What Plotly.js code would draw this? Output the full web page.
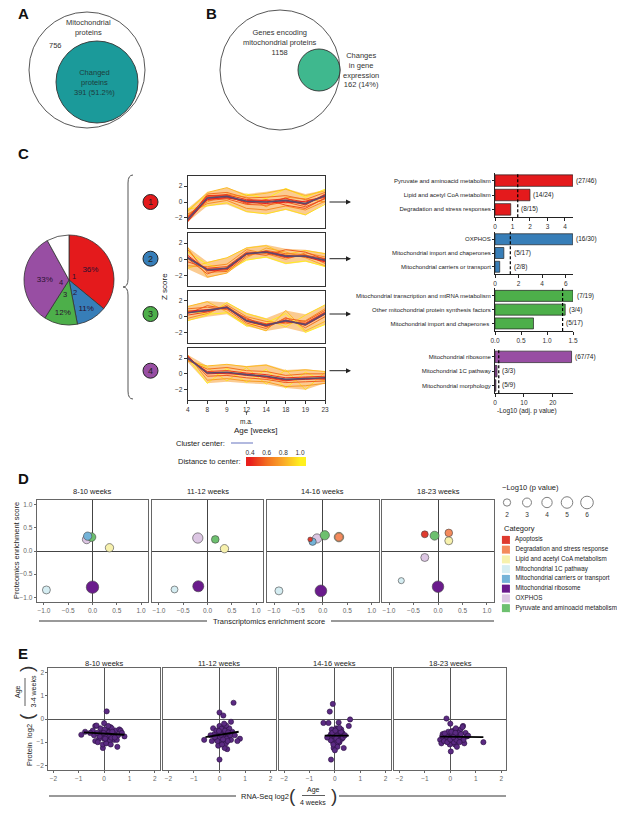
<!DOCTYPE html>
<html><head><meta charset="utf-8">
<script src="https://cdn.plot.ly/plotly-3.0.1.min.js"></script>
<style>html,body{margin:0;padding:0;background:#fff}#chart{width:617px;height:814px}</style>
</head><body><div id="chart"></div>
<script>
// ---------------- DATA ----------------
// Panel A
const mitoProteins = 756;
const changedProteins = 391;
const changedPct = '51.2%';
// Panel B
const mitoGenes = 1158;
const changedGenes = 162;
const changedGenesPct = '14%';
// Panel C pie
const clusterIds = ['1','2','3','4',''];
const clusterShares = [36, 11, 12, 33, 8];
const clusterColors = ['#e41a1c','#377eb8','#4daf4a','#984ea3','#ffffff'];
// Panel C profiles
const ageWeeks = ['4','8','9','12','14','18','19','23'];
const center1 = [-2.2,0.5,0.7,0.1,0.0,0.2,-0.2,0.8];
const center2 = [0.2,-1.3,-1.1,0.7,0.9,0.4,0.4,-0.1];
const center3 = [0.5,0.8,1.2,-0.5,-1.1,-0.5,-1.0,0.4];
const center4 = [2.0,0.1,0.2,-0.1,-0.3,-0.7,-0.6,-0.5];
const upper1 = [-0.8,1.2,1.8,1.0,1.3,1.7,1.0,1.5];
const lower1 = [-2.5,-0.5,-0.3,-1.3,-1.5,-1.0,-1.7,-0.2];
const upper2 = [1.5,-0.3,0.2,1.5,1.8,1.3,1.2,0.8];
const lower2 = [-1.2,-2.3,-1.7,-0.1,0.2,-0.6,-0.3,-0.9];
const upper3 = [1.3,2.0,1.8,0.5,-0.2,0.8,0.3,1.5];
const lower3 = [-0.5,0.0,0.3,-1.2,-1.8,-1.4,-2.0,-1.0];
const upper4 = [2.4,1.0,1.2,1.0,1.2,0.5,0.6,0.3];
const lower4 = [1.5,-1.2,-1.0,-1.2,-1.3,-1.8,-2.0,-1.2];
const lines1 = [[-2.4,0.3,0.6,0.0,-0.2,0.1,-0.3,0.9],[-2.0,0.8,0.9,0.3,0.2,0.4,0.0,0.6],[-1.8,0.2,0.4,-0.3,-0.4,0.0,-0.6,0.4],[-2.3,1.0,1.2,0.5,0.6,0.8,0.3,1.2],[-1.5,-0.2,0.2,-0.8,-1.0,-0.5,-1.0,0.1],[-1.2,1.2,1.8,0.8,1.1,1.6,0.8,1.4],[-0.9,-0.5,-0.1,-1.2,-1.5,-0.9,-1.6,-0.3],[-1.0,0.9,0.5,1.0,0.4,1.7,0.6,1.6],[-2.5,0.6,0.8,-0.2,0.3,-0.4,-0.8,0.5],[-1.6,0.0,1.0,0.6,-0.6,0.6,0.4,0.0],[-2.1,0.4,0.5,0.2,0.1,-0.1,0.1,0.7],[-1.9,0.7,0.9,-0.1,-0.1,0.5,-0.4,1.0]];
const dist1 = [0.4,0.45,0.55,0.6,0.7,0.85,0.95,1.0,0.5,0.75,0.42,0.5];
const lines2 = [[0.5,-1.4,-1.3,0.6,1.0,0.5,0.3,-0.3],[-0.3,-1.1,-0.9,0.9,0.8,0.2,0.5,0.1],[1.2,-1.6,-1.5,0.4,1.1,0.7,0.6,-0.5],[-0.8,-0.9,-0.6,1.2,0.7,0.0,0.8,0.3],[1.5,-2.2,-1.7,0.2,1.4,0.9,0.2,-0.8],[-1.1,-0.4,0.2,1.4,1.7,0.6,1.1,0.7],[0.9,-0.6,-1.4,-0.1,0.3,-0.5,-0.2,-0.9],[0.1,-1.8,-1.0,0.8,0.5,1.2,0.9,0.0],[0.3,-1.2,-1.2,0.7,0.9,0.3,0.4,-0.2]];
const dist2 = [0.4,0.5,0.6,0.7,0.8,0.9,1.0,0.55,0.42];
const lines3 = [[0.7,0.9,1.1,-0.6,-1.2,-0.4,-1.1,0.3],[0.2,0.6,1.3,-0.3,-0.9,-0.7,-0.8,0.6],[1.0,1.2,0.9,-0.8,-1.5,-0.1,-1.4,0.0],[-0.2,0.4,1.5,0.0,-0.6,-0.9,-0.5,1.0],[1.3,1.9,0.6,-1.0,-1.8,0.8,-1.8,-0.6],[-0.5,0.2,1.8,0.4,-0.3,-1.3,0.2,1.5],[0.8,0.3,0.5,-1.2,-0.8,0.4,-2.0,-1.0],[0.4,1.4,1.0,-0.2,-1.3,-0.2,-0.6,0.8],[0.6,0.7,1.2,-0.5,-1.0,-0.6,-0.9,0.5]];
const dist3 = [0.4,0.5,0.6,0.7,0.85,0.95,1.0,0.55,0.42];
const lines4 = [[2.2,0.0,0.1,-0.2,-0.4,-0.8,-0.7,-0.6],[1.9,0.3,0.4,0.1,-0.1,-0.5,-0.4,-0.3],[2.3,-0.3,-0.2,-0.5,-0.7,-1.1,-1.0,-0.9],[1.7,0.6,0.8,0.4,0.3,-0.2,0.0,0.0],[2.4,-0.8,-0.6,-0.9,-1.0,-1.6,-1.5,-1.2],[1.6,1.0,1.2,0.9,1.1,0.3,0.5,0.3],[2.0,-1.2,0.7,-1.1,0.6,-1.8,0.2,-1.0],[1.8,0.8,-0.9,0.8,-1.3,0.5,-2.0,0.2],[2.1,0.2,0.0,0.0,-0.5,-0.9,-0.5,-0.7]];
const dist4 = [0.4,0.45,0.55,0.6,0.75,0.85,1.0,0.95,0.5];
const distTicks = [0.4, 0.6, 0.8, 1.0];
// Panel C enrichment bars
const sigThreshold = 1.3;
const bar1Terms = ['Pyruvate and aminoacid metabolism','Lipid and acetyl CoA metabolism','Degradation and stress responses'];
const bar1Vals = [4.45, 2.0, 0.9];
const bar1Counts = ['(27/46)','(14/24)','(8/15)'];
const bar2Terms = ['OXPHOS','Mitochondrial import and chaperones','Mitochondrial carriers or transport'];
const bar2Vals = [6.6, 0.75, 0.4];
const bar2Counts = ['(16/30)','(5/17)','(2/8)'];
const bar3Terms = ['Mitochondrial transcription and mtRNA metabolism','Other mitochondrial protein synthesis factors','Mitochondrial import and chaperones '];
const bar3Vals = [1.5, 1.35, 0.74];
const bar3Counts = ['(7/19)','(3/4)','(5/17)'];
const bar4Terms = ['Mitochondrial ribosome','Mitochondrial 1C pathway','Mitochondrial morphology'];
const bar4Vals = [26.5, 0.7, 0.3];
const bar4Counts = ['(67/74)','(3/3)','(5/9)'];
// Panel D
const dPeriods = ['8-10 weeks','11-12 weeks','14-16 weeks','18-23 weeks'];
const dCategories = ['Apoptosis','Degradation and stress response','Lipid and acetyl CoA metabolism','Mitochondrial 1C pathway','Mitochondrial carriers or transport','Mitochondrial ribosome','OXPHOS','Pyruvate and aminoacid metabolism'];
const dColors = ['#df3a2e','#f48a5c','#f7f1ad','#d5edf2','#74b3d8','#6a1b8c','#dcc6e3','#6dc06f'];
const dSizeKey = [2,3,4,5,6];
const dCat1 = ['Mitochondrial ribosome','OXPHOS','Pyruvate and aminoacid metabolism','Mitochondrial carriers or transport','Lipid and acetyl CoA metabolism','Mitochondrial 1C pathway'];
const dX1 = [0.00,-0.12,-0.02,-0.10,0.35,-0.95];
const dY1 = [-0.78,0.25,0.30,0.32,0.07,-0.84];
const dP1 = [5.8,2.8,2.8,2.6,2.6,2.4];
const dCat2 = ['Mitochondrial ribosome','OXPHOS','Pyruvate and aminoacid metabolism','Lipid and acetyl CoA metabolism','Mitochondrial 1C pathway'];
const dX2 = [-0.19,-0.20,0.16,0.35,-0.68];
const dY2 = [-0.76,0.28,0.25,0.05,-0.83];
const dP2 = [4.6,4.0,2.2,2.6,1.8];
const dCat3 = ['Mitochondrial ribosome','OXPHOS','Pyruvate and aminoacid metabolism','Lipid and acetyl CoA metabolism','Degradation and stress response','Mitochondrial carriers or transport','Mitochondrial 1C pathway','Apoptosis'];
const dX3 = [-0.04,-0.12,0.04,0.33,0.33,-0.21,-0.90,-0.26];
const dY3 = [-0.86,0.27,0.34,0.30,0.30,0.20,-0.86,0.25];
const dP3 = [5.2,3.2,3.2,3.4,2.6,2.0,2.4,0.8];
const dCat4 = ['Mitochondrial ribosome','Pyruvate and aminoacid metabolism','OXPHOS','Lipid and acetyl CoA metabolism','Degradation and stress response','Apoptosis','Mitochondrial 1C pathway'];
const dX4 = [0.00,-0.07,-0.27,0.22,0.22,-0.27,-0.75];
const dY4 = [-0.77,0.33,-0.14,0.22,0.39,0.36,-0.64];
const dP4 = [5.0,3.0,2.4,2.4,2.2,1.8,1.4];
// Panel E (RNA log2 ratio, protein log2 ratio)
const ePeriods = ['8-10 weeks','11-12 weeks','14-16 weeks','18-23 weeks'];
const ePts1 = [[0.10,0.33],[-0.90,-0.68],[-0.75,-0.55],[0.80,-0.75],[-0.05,-1.25],[0.52,-1.20],[0.00,-0.60],[0.05,-0.70],[0.10,-0.50],[0.15,-0.80],[0.20,-0.65],[-0.10,-0.55],[-0.20,-0.85],[0.25,-0.45],[0.30,-0.75],[-0.35,-0.30],[0.35,-0.60],[0.40,-0.90],[-0.35,-0.95],[0.45,-0.50],[0.55,-0.70],[0.60,-0.45],[0.00,-0.18],[-0.05,-1.10],[0.15,-1.00],[0.25,-0.35],[-0.15,-0.40],[0.10,-0.90],[0.00,-0.85],[0.20,-0.55],[-0.25,-1.00],[0.30,-0.40],[0.12,-0.62],[-0.08,-0.72],[0.18,-0.58],[0.22,-0.95],[-0.12,-0.65],[0.08,-1.05],[0.28,-0.80],[0.38,-0.65],[-0.40,-0.70],[0.50,-0.90],[0.02,-0.45],[0.14,-0.70],[0.06,-0.78],[-0.02,-0.60],[0.32,-0.55],[-0.18,-0.75],[0.42,-0.80],[0.26,-1.10],[0.65,-0.50],[-0.30,-0.28],[-0.45,-0.50],[0.16,-0.30],[0.04,-0.85],[-0.28,-0.60],[0.70,-0.60],[-0.55,-0.60]];
const ePts2 = [[0.55,0.70],[0.00,0.28],[0.15,0.15],[0.00,-1.75],[-0.60,-0.90],[0.80,-0.85],[0.70,-0.95],[0.45,-0.12],[0.30,-1.30],[0.20,-1.25],[-0.05,-1.15],[0.05,-0.60],[0.10,-0.70],[0.15,-0.50],[0.20,-0.80],[0.25,-0.65],[-0.10,-0.55],[-0.15,-0.85],[0.30,-0.45],[0.35,-0.75],[-0.25,-0.40],[0.40,-0.60],[0.45,-0.90],[-0.30,-0.95],[0.50,-0.55],[0.00,-0.30],[0.10,-1.00],[0.20,-0.35],[-0.20,-0.65],[0.05,-0.90],[0.15,-0.78],[0.25,-1.05],[-0.05,-0.75],[0.12,-0.58],[0.08,-0.42],[0.18,-0.62],[0.28,-0.85],[-0.12,-0.50],[0.02,-0.80],[0.22,-0.50],[0.32,-0.95],[-0.08,-0.95],[0.38,-0.40],[0.14,-0.88],[0.06,-0.68],[-0.18,-0.78],[0.42,-0.70],[0.26,-0.28],[-0.35,-0.70],[0.60,-0.70],[0.10,-1.10],[-0.02,-0.52],[0.34,-0.58],[0.18,-0.20]];
const ePts3 = [[-0.08,0.65],[-0.20,0.32],[-0.45,-0.17],[-0.25,-0.17],[0.15,-0.15],[0.60,-0.02],[0.55,-0.30],[-0.15,-1.75],[0.35,-1.25],[0.00,-0.60],[0.05,-0.70],[0.10,-0.50],[0.15,-0.80],[0.20,-0.65],[-0.05,-0.55],[-0.10,-0.85],[0.25,-0.45],[0.08,-0.95],[-0.15,-0.65],[0.12,-1.05],[0.02,-1.15],[-0.05,-1.25],[0.18,-1.00],[0.22,-0.75],[0.30,-0.60],[-0.12,-0.45],[0.05,-0.40],[0.10,-0.88],[-0.02,-0.78],[0.14,-0.68],[0.06,-0.58],[-0.08,-0.98],[0.16,-0.52],[0.00,-0.92],[0.28,-0.85],[-0.20,-0.75],[0.04,-1.05],[0.12,-0.42],[-0.04,-0.66],[0.20,-0.90],[0.08,-0.72],[0.10,-1.20],[-0.10,-0.60],[0.24,-0.55],[0.02,-0.50],[0.32,-0.80],[-0.16,-0.92],[0.06,-0.84],[0.14,-0.95],[0.00,-1.35],[-0.06,-1.10],[0.18,-0.38],[0.40,-0.70],[-0.30,-0.80]];
const ePts4 = [[1.30,-1.00],[-0.15,0.02],[0.00,-0.20],[0.02,-1.40],[0.50,-0.30],[-0.40,-0.90],[-0.35,-1.05],[-0.30,-0.65],[0.00,-0.70],[0.05,-0.80],[0.10,-0.60],[0.15,-0.90],[0.20,-0.75],[-0.05,-0.85],[-0.10,-0.65],[0.25,-0.55],[0.30,-0.95],[-0.20,-0.80],[0.35,-0.70],[0.40,-0.45],[0.45,-0.85],[0.55,-1.05],[0.60,-0.60],[-0.25,-0.95],[0.08,-1.00],[0.12,-0.50],[0.18,-1.10],[0.22,-0.40],[-0.08,-0.55],[0.02,-0.95],[0.28,-0.80],[0.16,-0.70],[-0.15,-0.75],[0.06,-0.62],[0.10,-0.85],[0.32,-0.60],[-0.02,-1.10],[0.14,-1.00],[0.24,-0.90],[0.38,-0.78],[-0.12,-1.00],[0.04,-0.55],[0.20,-0.60],[0.42,-0.65],[0.48,-0.35],[0.65,-0.75],[0.52,-0.90],[-0.32,-0.75],[0.26,-1.20],[0.00,-0.88],[-0.22,-0.62],[0.36,-1.00],[0.12,-0.78],[0.70,-0.72]];
const eFitX1 = [-0.80,0.80], eFitY1 = [-0.58,-0.68];
const eFitX2 = [-0.55,0.75], eFitY2 = [-0.78,-0.55];
const eFitX3 = [-0.40,0.55], eFitY3 = [-0.72,-0.72];
const eFitX4 = [-0.40,1.30], eFitY4 = [-0.76,-0.78];

// ---------------- HELPERS ----------------
const W = 617, H = 814;
const px = x => x / W, py = y => 1 - y / H;
const hd = (a, b) => [a / W, b / W];
const vd = (top, bot) => [1 - bot / H, 1 - top / H];
const FONT = 'Liberation Sans, Arial, sans-serif';
const tickF = {family: FONT, size: 6.5, color: '#333'};
const grayTickF = {family: FONT, size: 6.5, color: '#666'};

const stops = [[0.4,[232,32,28]],[0.6,[243,112,32]],[0.8,[250,170,40]],[1.0,[255,240,30]]];
function distColor(d) {
  for (let i = 0; i < stops.length - 1; i++) {
    const [a, ca] = stops[i], [b, cb] = stops[i + 1];
    if (d <= b || i === stops.length - 2) {
      const t = Math.max(0, Math.min(1, (d - a) / (b - a)));
      const c = ca.map((v, j) => Math.round(v + (cb[j] - v) * t));
      return `rgb(${c[0]},${c[1]},${c[2]})`;
    }
  }
}
const distScale = stops.map(([v, c]) => [(v - 0.4) / 0.6, `rgb(${c[0]},${c[1]},${c[2]})`]);

const layout = {
  width: W, height: H, margin: {l: 0, r: 0, t: 0, b: 0},
  paper_bgcolor: '#fff', plot_bgcolor: 'rgba(0,0,0,0)', showlegend: false,
  font: {family: FONT, size: 7, color: '#222'},
  shapes: [], annotations: []
};
const traces = [];
function ann(x, y, text, o = {}) {
  layout.annotations.push(Object.assign({xref: 'paper', yref: 'paper', x: px(x), y: py(y), text, showarrow: false,
    font: {family: FONT, size: o.size || 7, color: o.color || '#222'}, xanchor: o.xa || 'center', yanchor: o.ya || 'middle'}, o.extra || {}));
}
function circle(cx, cy, r, fill, lc, lw) {
  layout.shapes.push({type: 'circle', xref: 'paper', yref: 'paper', x0: px(cx - r), x1: px(cx + r), y0: py(cy + r), y1: py(cy - r),
    fillcolor: fill, line: {color: lc || '#333', width: lw || 1}});
}
function pline(x0, y0, x1, y1, color, width, dash) {
  layout.shapes.push({type: 'line', xref: 'paper', yref: 'paper', x0: px(x0), x1: px(x1), y0: py(y0), y1: py(y1),
    line: {color: color || '#333', width: width || 1, dash: dash || 'solid'}});
}

// ---------------- PANEL LETTERS ----------------
[['A',23,13],['B',211,13],['C',23,153],['D',23,478],['E',23,653]].forEach(([t,x,y]) =>
  ann(x, y, '<b>' + t + '</b>', {size: 15, color: '#111'}));

// ---------------- PANEL A / B (Venn) ----------------
circle(87, 70, 58, 'rgba(0,0,0,0)', '#444', 0.9);
circle(97, 82, 41, '#1b9a9a', '#333', 0.9);
ann(88, 28, 'Mitochondrial<br>proteins', {size: 7.5, color: '#333'});
ann(55, 45, String(mitoProteins), {size: 7.5, color: '#333'});
ann(94, 82, 'Changed<br>proteins<br>' + changedProteins + ' (' + changedPct + ')', {size: 7.5, color: '#1d3d3d'});
circle(280, 70, 60, 'rgba(0,0,0,0)', '#444', 0.9);
circle(319, 70, 21, '#3fb88e', '#333', 0.9);
ann(280, 43, 'Genes encoding<br>mitochondrial proteins<br>' + mitoGenes, {size: 7.5, color: '#333'});
ann(361, 70, 'Changes<br>in gene<br>expression<br>' + changedGenes + ' (' + changedGenesPct + ')', {size: 7.5, color: '#333'});

// ---------------- PANEL C: pie ----------------
traces.push({type: 'pie', values: clusterShares, labels: clusterIds.map((c, i) => 'c' + i),
  marker: {colors: clusterColors, line: {color: '#333', width: 0.8}},
  text: clusterShares.map((v, i) => clusterIds[i] ? v + '%' : ''), textinfo: 'text', textposition: 'inside',
  insidetextorientation: 'horizontal', textfont: {family: FONT, size: 8, color: '#2a1030'},
  sort: false, direction: 'clockwise', rotation: 0, hoverinfo: 'none',
  domain: {x: hd(24, 114), y: vd(235, 325)}});
[['1',74,276],['2',75,292],['3',65,294],['4',61,283]].forEach(([t,x,y]) => ann(x, y, t, {size: 7.5, color: '#2a1030'}));

// brace
const P = (x, y) => `${px(x)},${py(y)}`;
layout.shapes.push({type: 'path', xref: 'paper', yref: 'paper', line: {color: '#555', width: 1},
  path: `M${P(133,175)} Q${P(128,175)} ${P(128,183)} L${P(128,279)} Q${P(128,287)} ${P(123,287)} Q${P(128,287)} ${P(128,295)} L${P(128,391)} Q${P(128,399)} ${P(133,399)}`});

// ---------------- PANEL C: profiles ----------------
const lineBoxes = [[175.7,228.3],[232.7,286],[290.7,342.7],[347.7,400]];
const centers = [center1, center2, center3, center4];
const uppers = [upper1, upper2, upper3, upper4];
const lowers = [lower1, lower2, lower3, lower4];
const lineSets = [lines1, lines2, lines3, lines4];
const distSets = [dist1, dist2, dist3, dist4];
const xIdx = ageWeeks.map((_, i) => i);
const clusterY = [202, 258.7, 314, 370.7];
for (let i = 0; i < 4; i++) {
  const k = i + 1;
  layout['xaxis' + k] = {domain: hd(187.7, 325), range: [0, 7], anchor: 'y' + k, tickvals: xIdx, ticktext: ageWeeks,
    showticklabels: k === 4, ticks: k === 4 ? 'outside' : '', ticklen: 3, tickcolor: '#333', showline: true, mirror: true,
    linecolor: '#333', linewidth: 1, showgrid: false, zeroline: false, tickfont: tickF};
  layout['yaxis' + k] = {domain: vd(...lineBoxes[i]), range: [-3.3, 3.3], anchor: 'x' + k, tickvals: [-2, 0, 2],
    ticks: 'outside', ticklen: 3, tickcolor: '#333', showline: true, mirror: true, linecolor: '#333', linewidth: 1,
    showgrid: false, zeroline: false, tickfont: tickF};
  const ax = {xaxis: 'x' + k, yaxis: 'y' + k, hoverinfo: 'skip'};
  traces.push(Object.assign({type: 'scatter', mode: 'lines', x: xIdx, y: uppers[i], line: {width: 0, color: 'rgba(0,0,0,0)'}}, ax));
  traces.push(Object.assign({type: 'scatter', mode: 'lines', x: xIdx, y: lowers[i], fill: 'tonexty', fillcolor: 'rgba(248,160,55,0.55)', line: {width: 0, color: 'rgba(0,0,0,0)'}}, ax));
  const order = distSets[i].map((d, j) => j).sort((a, b) => distSets[i][b] - distSets[i][a]);
  order.forEach(j => traces.push(Object.assign({type: 'scatter', mode: 'lines', x: xIdx, y: lineSets[i][j],
    line: {width: 1, color: distColor(distSets[i][j])}}, ax)));
  traces.push(Object.assign({type: 'scatter', mode: 'lines', x: xIdx, y: centers[i], line: {width: 1.6, color: '#5c4a6c'}}, ax));
  // cluster badge and arrow
  circle(150.5, clusterY[i], 7.5, clusterColors[i], '#222', 1);
  ann(150.5, clusterY[i], clusterIds[i], {size: 9, color: '#222'});
  layout.annotations.push({xref: 'paper', yref: 'paper', x: px(351), y: py(clusterY[i]), ax: -23, ay: 0, text: '',
    showarrow: true, arrowhead: 2, arrowsize: 1, arrowwidth: 1, arrowcolor: '#222'});
}
ann(164, 287, 'Z score', {size: 8, extra: {textangle: -90}});
ann(256, 430, 'Age [weeks]', {size: 8});
ann(246.5, 421, 'm.a.', {size: 6.5});
layout.annotations.push({xref: 'paper', yref: 'paper', x: px(246.5), y: py(411.5), ax: 0, ay: 5, text: '',
  showarrow: true, arrowhead: 1, arrowsize: 0.6, arrowwidth: 0.7, arrowcolor: '#333'});
// legend
ann(227, 443, 'Cluster center:', {size: 7.5, xa: 'right'});
pline(231, 443, 253, 443, '#98a2d4', 1.5);
ann(243, 461, 'Distance to center:', {size: 7.5, xa: 'right'});
layout.xaxis17 = {domain: hd(246, 306), range: [0.352, 1.072], anchor: 'y17', side: 'top', tickvals: distTicks,
  ticktext: distTicks.map(v => v.toFixed(1)), ticks: '', showline: false, showgrid: false, zeroline: false, tickfont: tickF};
layout.yaxis17 = {domain: vd(457, 466), range: [0, 1], anchor: 'x17', visible: false};
traces.push({type: 'heatmap', x: distTicks, y: [0, 1], z: [distTicks, distTicks], colorscale: distScale, zmin: 0.4, zmax: 1.0,
  zsmooth: 'best', showscale: false, xaxis: 'x17', yaxis: 'y17', hoverinfo: 'skip'});

// ---------------- PANEL C: enrichment bars ----------------
const barTerms = [bar1Terms, bar2Terms, bar3Terms, bar4Terms];
const barVals = [bar1Vals, bar2Vals, bar3Vals, bar4Vals];
const barCounts = [bar1Counts, bar2Counts, bar3Counts, bar4Counts];
const barRanges = [[0, 4.46], [0, 6.62], [0, 1.5], [0, 27]];
const barTickVals = [[0,1,2,3,4],[0,2,4,6],[0,0.5,1.0,1.5],[0,10,20]];
const barBoxes = [[172.7,217.3],[231.7,274.3],[288.3,331],[349,393.3]];
for (let i = 0; i < 4; i++) {
  const k = i + 5;
  layout['xaxis' + k] = {domain: hd(495, 573), range: barRanges[i], anchor: 'y' + k, tickvals: barTickVals[i],
    tickformat: i === 2 ? '.1f' : '', ticks: 'outside', ticklen: 3, tickcolor: '#222', showline: true, linecolor: '#222',
    linewidth: 1, showgrid: false, zeroline: false, tickfont: tickF};
  layout['yaxis' + k] = {domain: vd(...barBoxes[i]), type: 'category', range: [2.55, -0.55], anchor: 'x' + k,
    ticks: 'outside', ticklen: 2, tickcolor: '#222', showline: true, linecolor: '#222', linewidth: 1, showgrid: false,
    zeroline: false, tickfont: {family: FONT, size: 6, color: '#222'}};
  traces.push({type: 'bar', orientation: 'h', y: barTerms[i], x: barVals[i], width: 0.8,
    marker: {color: clusterColors[i], line: {color: '#222', width: 0.7}}, xaxis: 'x' + k, yaxis: 'y' + k, hoverinfo: 'skip', cliponaxis: false});
  // significance threshold: data x, paper y (drawn above all traces)
  layout.shapes.push({type: 'line', layer: 'above', xref: 'x' + k, yref: 'paper', x0: sigThreshold, x1: sigThreshold,
    y0: py(barBoxes[i][1]), y1: py(barBoxes[i][0]), line: {color: '#000', width: 1.2, dash: '3px,2px'}});
  barTerms[i].forEach((t, j) => layout.annotations.push({xref: 'x' + k, yref: 'y' + k, x: Math.max(barVals[i][j], sigThreshold),
    y: t, xanchor: 'left', xshift: 1.5, yanchor: 'middle', text: barCounts[i][j], showarrow: false,
    font: {family: FONT, size: 6.5, color: '#222'}}));
}
ann(527, 411, '-Log10 (adj. p value)', {size: 6.5});

// ---------------- PANEL D ----------------
const dBoxes = [[36.7,148.3],[151.7,263.3],[266.7,379],[381.7,494.3]];
const dCats = [dCat1, dCat2, dCat3, dCat4];
const dXs = [dX1, dX2, dX3, dX4], dYs = [dY1, dY2, dY3, dY4], dPs = [dP1, dP2, dP3, dP4];
const SIZEREF = 0.075;
for (let i = 0; i < 4; i++) {
  const k = i + 9;
  layout['xaxis' + k] = {domain: hd(...dBoxes[i]), range: [-1.15, 1.15], anchor: 'y' + k, tickvals: [-1, -0.5, 0, 0.5, 1],
    tickformat: '.1f', ticks: 'outside', ticklen: 2, tickcolor: '#666', showline: true, mirror: true, linecolor: '#666',
    linewidth: 1, showgrid: false, zeroline: true, zerolinecolor: '#444', zerolinewidth: 1, tickfont: grayTickF};
  layout['yaxis' + k] = {domain: vd(500, 602), range: [-1.1, 1.1], anchor: 'x' + k, tickvals: [-1, -0.5, 0, 0.5, 1],
    tickformat: '.1f', showticklabels: i === 0, ticks: i === 0 ? 'outside' : '', ticklen: 2, tickcolor: '#666',
    showline: true, mirror: true, linecolor: '#666', linewidth: 1, showgrid: false, zeroline: true, zerolinecolor: '#444',
    zerolinewidth: 1, tickfont: grayTickF};
  const ord = dPs[i].map((_, j) => j).sort((a, b) => dPs[i][b] - dPs[i][a]);
  traces.push({type: 'scatter', mode: 'markers', xaxis: 'x' + k, yaxis: 'y' + k, hoverinfo: 'skip', cliponaxis: false,
    x: ord.map(j => dXs[i][j]), y: ord.map(j => dYs[i][j]),
    marker: {size: ord.map(j => dPs[i][j]), sizemode: 'area', sizeref: SIZEREF, opacity: 1,
      color: ord.map(j => dColors[dCategories.indexOf(dCats[i][j])]), line: {color: '#444', width: 0.6}}});
  ann((dBoxes[i][0] + dBoxes[i][1]) / 2, 491.5, dPeriods[i], {size: 7.5});
}
ann(16, 551, 'Proteomics enrichment score', {size: 7.5, extra: {textangle: -90}});
ann(269, 621, 'Transcriptomics enrichment score', {size: 7.5});
pline(39, 621, 207, 621, '#777', 1.5);
pline(331, 621, 494, 621, '#777', 1.5);
// size legend
ann(500, 488, '\u2212Log10 (p value)', {size: 7.5, xa: 'left'});
layout.xaxis18 = {domain: hd(497, 597), range: [1.5, 6.5], anchor: 'y18', visible: false};
layout.yaxis18 = {domain: vd(496, 522), range: [-0.5, 1.5], anchor: 'x18', visible: false};
traces.push({type: 'scatter', mode: 'markers', x: dSizeKey, y: dSizeKey.map(() => 1), xaxis: 'x18', yaxis: 'y18',
  hoverinfo: 'skip', cliponaxis: false,
  marker: {size: dSizeKey, sizemode: 'area', sizeref: SIZEREF, color: 'rgba(255,255,255,0)', line: {color: '#333', width: 0.9}}});
traces.push({type: 'scatter', mode: 'text', x: dSizeKey, y: dSizeKey.map(() => 0), text: dSizeKey.map(String),
  textfont: {family: FONT, size: 6.5, color: '#333'}, xaxis: 'x18', yaxis: 'y18', hoverinfo: 'skip', cliponaxis: false});
// category legend
ann(502, 528, 'Category', {size: 7.5, xa: 'left'});
layout.xaxis19 = {domain: hd(502, 600), range: [-0.4, 9.6], anchor: 'y19', visible: false};
layout.yaxis19 = {domain: vd(535, 613), range: [7.5, -0.5], anchor: 'x19', visible: false};
traces.push({type: 'scatter', mode: 'markers+text', x: dCategories.map(() => 0), y: dCategories.map((_, i) => i),
  text: dCategories.map(c => '  ' + c), textposition: 'middle right', textfont: {family: FONT, size: 6.3, color: '#222'},
  marker: {symbol: 'square', size: 8, color: dColors, line: {width: 0}}, xaxis: 'x19', yaxis: 'y19', hoverinfo: 'skip', cliponaxis: false});

// ---------------- PANEL E ----------------
const eBoxes = [[48.3,160],[163.3,275.7],[279,390.7],[394.3,506.3]];
const ePts = [ePts1, ePts2, ePts3, ePts4];
const eFitX = [eFitX1, eFitX2, eFitX3, eFitX4], eFitY = [eFitY1, eFitY2, eFitY3, eFitY4];
for (let i = 0; i < 4; i++) {
  const k = i + 13;
  layout['xaxis' + k] = {domain: hd(...eBoxes[i]), range: [-2.2, 2.2], anchor: 'y' + k, tickvals: [-2, -1, 0, 1, 2],
    ticks: 'outside', ticklen: 2, tickcolor: '#666', showline: true, mirror: true, linecolor: '#666', linewidth: 1,
    showgrid: false, zeroline: true, zerolinecolor: '#555', zerolinewidth: 1, tickfont: grayTickF};
  layout['yaxis' + k] = {domain: vd(668, 770), range: [-2.2, 2.2], anchor: 'x' + k, tickvals: [-2, -1, 0, 1, 2],
    showticklabels: i === 0, ticks: i === 0 ? 'outside' : '', ticklen: 2, tickcolor: '#666', showline: true, mirror: true,
    linecolor: '#666', linewidth: 1, showgrid: false, zeroline: true, zerolinecolor: '#555', zerolinewidth: 1, tickfont: grayTickF};
  traces.push({type: 'scatter', mode: 'markers', xaxis: 'x' + k, yaxis: 'y' + k, hoverinfo: 'skip',
    x: ePts[i].map(p => p[0]), y: ePts[i].map(p => p[1]),
    marker: {size: 5.2, color: '#5b2a82', line: {color: '#2a1040', width: 0.6}}});
  traces.push({type: 'scatter', mode: 'lines', xaxis: 'x' + k, yaxis: 'y' + k, hoverinfo: 'skip',
    x: eFitX[i], y: eFitY[i], line: {color: '#000', width: 1.8}});
  ann((eBoxes[i][0] + eBoxes[i][1]) / 2, 663, ePeriods[i], {size: 7.5});
}
// E x title
ann(265, 796, 'RNA-Seq log2', {size: 7.5});
ann(292, 795.5, '(', {size: 19, color: '#333'});
ann(313, 789.5, 'Age', {size: 7});
pline(302, 795.5, 325, 795.5, '#333', 0.8);
ann(313, 802, '4 weeks', {size: 7});
ann(334, 795.5, ')', {size: 19, color: '#333'});
pline(49, 796, 236, 796, '#777', 1.5);
pline(339, 796, 506, 796, '#777', 1.5);
// E y title
ann(29, 745, 'Protein  log2', {size: 7.5, extra: {textangle: -90}});
ann(26, 717, '(', {size: 19, color: '#333', extra: {textangle: -90}});
ann(18, 692, 'Age', {size: 7, extra: {textangle: -90}});
pline(25, 678, 25, 706, '#333', 0.8);
ann(32.5, 692, '3-4 weeks', {size: 7, extra: {textangle: -90}});
ann(26, 669, ')', {size: 19, color: '#333', extra: {textangle: -90}});

Plotly.newPlot('chart', traces, layout, {staticPlot: true, displayModeBar: false});
</script>
</body></html>
